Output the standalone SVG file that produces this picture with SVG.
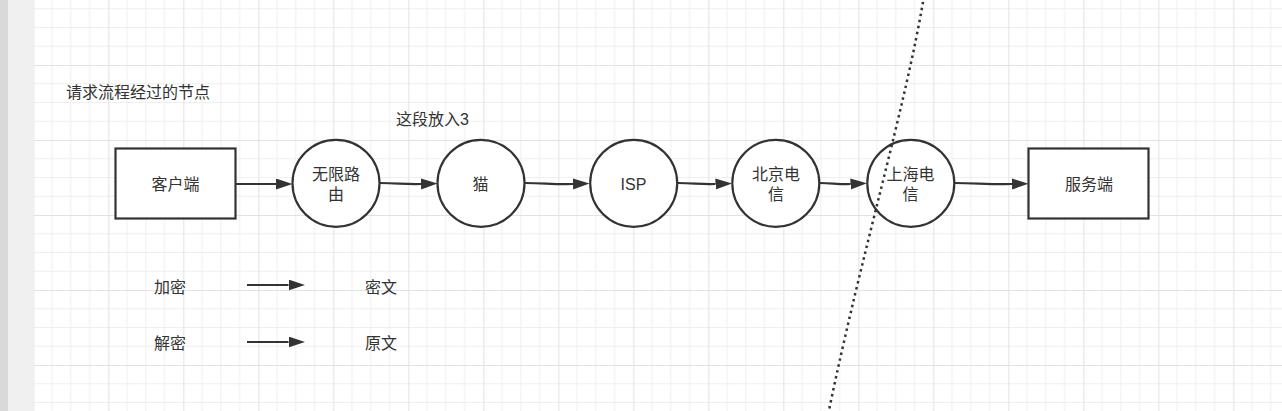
<svg xmlns="http://www.w3.org/2000/svg" width="1282" height="411" viewBox="0 0 1282 411">
  <defs>
    <style>
      .shape { fill: #ffffff; stroke: #333333; stroke-width: 2.2; }
      .edge { fill: none; stroke: #333333; stroke-width: 2.2; }
      .lbl { font-family: "Liberation Sans", "Noto Sans CJK SC", sans-serif; font-size: 16px; fill: #333333; }
      .c { text-anchor: middle; dominant-baseline: central; }
      .l { text-anchor: start; dominant-baseline: central; }
      .dots { fill: none; stroke: #333333; stroke-width: 2.5; stroke-dasharray: 2.5 3.6; }
    </style>
    <pattern id="grid" patternUnits="userSpaceOnUse" x="33.33" y="-10" width="75" height="75">
      <path d="M18.75 0V75M37.5 0V75M56.25 0V75M0 18.75H75M0 37.5H75M0 56.25H75" stroke="#efefef" stroke-width="1" fill="none"/>
      <path d="M0.5 0V75M0 0.5H75" stroke="#e2e2e2" stroke-width="1" fill="none"/>
    </pattern>
    <marker id="arrow" markerUnits="userSpaceOnUse" markerWidth="17" markerHeight="12" refX="0" refY="5.5" orient="auto">
      <path d="M0 0L16.5 5.5L0 11Z" fill="#333333"/>
    </marker>
  </defs>

  <!-- background -->
  <rect x="0" y="0" width="1282" height="411" fill="#ffffff"/>
  <rect x="0" y="0" width="8" height="411" fill="#d9d9dc"/>
  <rect x="8" y="0" width="25.3" height="411" fill="#f0f0f0"/>
  <rect x="33.3" y="0" width="1248.7" height="411" fill="url(#grid)"/>

  <!-- free texts -->
  <text class="lbl l" x="66" y="92">请求流程经过的节点</text>
  <text class="lbl l" x="396" y="119">这段放入3</text>

  <!-- connectors -->
  <g id="connectors">
    <path class="edge" d="M236 184L276 184" marker-end="url(#arrow)"/>
    <path class="edge" d="M380 183C398 183 404 184.5 421 184" marker-end="url(#arrow)"/>
    <path class="edge" d="M525 183C545 183 552 184.5 573 184" marker-end="url(#arrow)"/>
    <path class="edge" d="M678 183C694 183 700 184.5 715.5 184" marker-end="url(#arrow)"/>
    <path class="edge" d="M820 183C832 183 838 184.5 850.5 184" marker-end="url(#arrow)"/>
    <path class="edge" d="M955 183C975 183 990 184.5 1012 184" marker-end="url(#arrow)"/>
    <path class="edge" d="M247 285L288.5 285" marker-end="url(#arrow)"/>
    <path class="edge" d="M247 342L288.5 342" marker-end="url(#arrow)"/>
  </g>

  <!-- nodes -->
  <g id="client">
    <rect class="shape" x="115.5" y="148.5" width="120" height="70"/>
    <text class="lbl c" x="175.5" y="184">客户端</text>
  </g>
  <g id="router">
    <circle class="shape" cx="336" cy="183.3" r="43.5"/>
    <text class="lbl c" x="336" y="174.5">无限路</text>
    <text class="lbl c" x="336" y="194">由</text>
  </g>
  <g id="modem">
    <circle class="shape" cx="481" cy="183.3" r="43.5"/>
    <text class="lbl c" x="480.5" y="184">猫</text>
  </g>
  <g id="isp">
    <circle class="shape" cx="633.7" cy="183.3" r="43.5"/>
    <text class="lbl c" x="633.5" y="184">ISP</text>
  </g>
  <g id="beijing">
    <circle class="shape" cx="775.8" cy="183.3" r="43.5"/>
    <text class="lbl c" x="776" y="174.5">北京电</text>
    <text class="lbl c" x="776" y="194">信</text>
  </g>
  <g id="shanghai">
    <circle class="shape" cx="910.8" cy="183.3" r="43.5"/>
    <text class="lbl c" x="910.5" y="174.5">上海电</text>
    <text class="lbl c" x="910.5" y="194">信</text>
  </g>
  <g id="server">
    <rect class="shape" x="1028.5" y="148.5" width="120" height="70"/>
    <text class="lbl c" x="1089" y="184">服务端</text>
  </g>

  <!-- legend -->
  <g id="legend">
    <text class="lbl l" x="154" y="287">加密</text>
    <text class="lbl l" x="365" y="287">密文</text>
    <text class="lbl l" x="154" y="343">解密</text>
    <text class="lbl l" x="365" y="343">原文</text>
  </g>

  <!-- dotted divider -->
  <path class="dots" d="M924 -4C905 110 862 250 828 415"/>
</svg>
